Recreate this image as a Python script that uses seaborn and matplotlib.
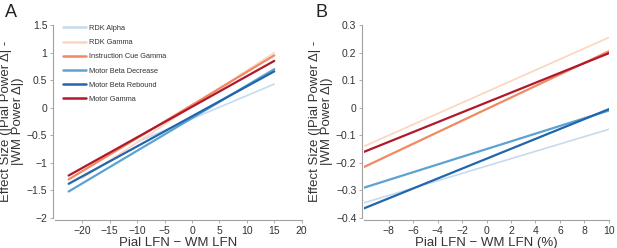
import pandas as pd
import numpy as np
import matplotlib
matplotlib.use("Agg")
import matplotlib.pyplot as plt
import seaborn as sns

sns.set_theme(style="white")
plt.rcParams['font.family'] = ['Liberation Sans', 'DejaVu Sans']

conditions = ["RDK Alpha", "RDK Gamma", "Instruction Cue Gamma",
              "Motor Beta Decrease", "Motor Beta Rebound", "Motor Gamma"]
colors = ["#c6dbef", "#fcd5c0", "#ef8a62", "#5ba3d0", "#2166ac", "#b2182b"]
widths = [1.2, 1.2, 1.6, 1.6, 1.6, 1.6]

# panel A: line endpoints (x, y)
a_x0 = [-10, -20, -22.5, -22.5, -22.5, -22.5]
a_x1 = [15, 15, 15, 15, 15, 15]
a_y0 = [-0.62, -1.28, -1.30, -1.52, -1.38, -1.23]
a_y1 = [0.43, 1.00, 0.95, 0.70, 0.66, 0.85]

# panel B: line endpoints
b_x0 = [-10, -10, -10, -10, -10, -10]
b_x1 = [10, 10, 10, 10, 10, 10]
b_y0 = [-0.345, -0.14, -0.215, -0.29, -0.365, -0.16]
b_y1 = [-0.078, 0.255, 0.205, -0.01, -0.005, 0.198]


def long_df(x0, x1, y0, y1):
    rows = []
    for c, xa, xb, ya, yb in zip(conditions, x0, x1, y0, y1):
        rows.append({"cond": c, "x": xa, "y": ya})
        rows.append({"cond": c, "x": xb, "y": yb})
    return pd.DataFrame(rows)


dfa = long_df(a_x0, a_x1, a_y0, a_y1)
dfb = long_df(b_x0, b_x1, b_y0, b_y1)
pal = dict(zip(conditions, colors))

fig = plt.figure(figsize=(6.17, 2.48), dpi=100)
axA = fig.add_axes([0.089, 0.121, 0.40, 0.778])
axB = fig.add_axes([0.590, 0.121, 0.397, 0.778])

for ax, df in [(axA, dfa), (axB, dfb)]:
    for c, w in zip(conditions, widths):
        sub = df[df["cond"] == c]
        sns.lineplot(data=sub, x="x", y="y", color=pal[c], lw=w,
                     ax=ax, label=c, legend=False)
    for s in ["top", "right"]:
        ax.spines[s].set_visible(False)
    for s in ["left", "bottom"]:
        ax.spines[s].set_color("#a0a0a0")
        ax.spines[s].set_linewidth(0.8)
        ax.spines[s].set_position(("outward", 1.5))
    ax.tick_params(axis="both", which="both", direction="out", length=2.5,
                   width=0.6, color="#a0a0a0", labelsize=7.5,
                   labelcolor="#333333", bottom=True, left=True, pad=1.5)
    ax.set_ylabel("Effect Size (|Pial Power Δ| -\n|WM Power Δ|)",
                  fontsize=9.5, color="#333333", labelpad=2, linespacing=1.0)

axA.set_xlim(-25, 20)
axA.set_ylim(-2, 1.5)
axA.set_xticks(np.arange(-20, 21, 5))
axA.set_yticks([-2, -1.5, -1, -0.5, 0, 0.5, 1, 1.5])
axA.set_yticklabels(["−2", "−1.5", "−1", "−0.5", "0", "0.5", "1", "1.5"])
axA.set_xticklabels(["−20", "−15", "−10", "−5", "0", "5", "10", "15", "20"])
axA.set_xlabel("Pial LFN − WM LFN", fontsize=9.5, color="#333333", labelpad=1)

axB.set_xlim(-10, 10)
axB.set_ylim(-0.4, 0.3)
axB.set_xticks(np.arange(-8, 11, 2))
axB.set_xticklabels(["−8", "−6", "−4", "−2", "0", "2", "4", "6", "8", "10"])
axB.set_yticks([-0.4, -0.3, -0.2, -0.1, 0, 0.1, 0.2, 0.3])
axB.set_yticklabels(["−0.4", "−0.3", "−0.2", "−0.1", "0", "0.1", "0.2", "0.3"])
axB.set_xlabel("Pial LFN − WM LFN (%)", fontsize=9.5, color="#333333", labelpad=1)

leg = axA.legend(loc="upper left", frameon=False, fontsize=5.3,
                 handlelength=3.1, handletextpad=0.4, labelspacing=0.95,
                 bbox_to_anchor=(0.005, 1.035))
for t in leg.get_texts():
    t.set_color("#333333")
for h in leg.get_lines():
    h.set_linewidth(1.8)

fig.text(0.008, 0.93, "A", fontsize=13, color="#222222")
fig.text(0.512, 0.93, "B", fontsize=13, color="#222222")

fig.savefig("out.png", dpi=100)
